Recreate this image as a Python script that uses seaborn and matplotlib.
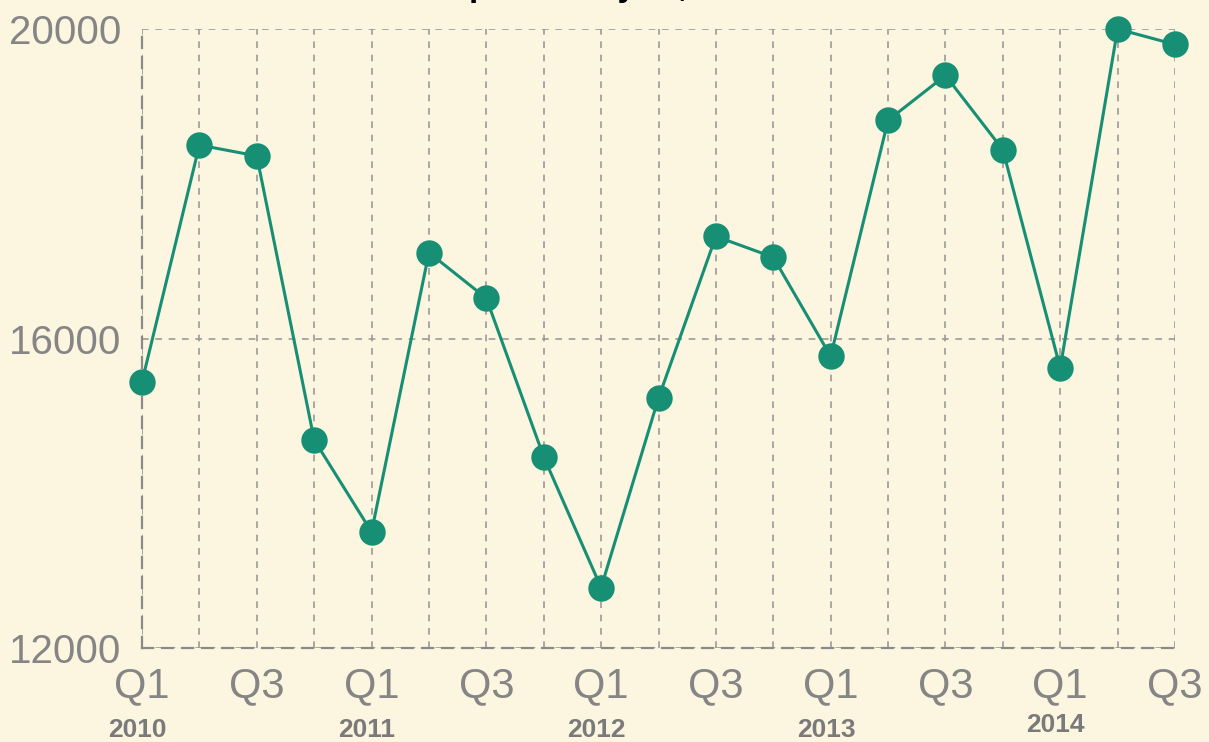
import matplotlib
matplotlib.use("Agg")
import matplotlib.pyplot as plt
import matplotlib.transforms as mtransforms
import seaborn as sns
import pandas as pd

quarters = ["Q1", "Q2", "Q3", "Q4"] * 4 + ["Q1", "Q2", "Q3"]
years = [2010] * 4 + [2011] * 4 + [2012] * 4 + [2013] * 4 + [2014] * 3
values = [15440, 18500, 18360, 14690, 13500, 17110, 16520, 14470, 12780,
          15230, 17320, 17050, 15770, 18820, 19400, 18440, 15620, 20000, 19800]
year_labels = ["2010", "2011", "2012", "2013", "2014"]
y_ticks = [12000, 16000, 20000]
title = "Shipments by Yr, 2010\u20132014"

df = pd.DataFrame({"idx": range(len(values)), "value": values,
                   "quarter": quarters, "year": years})

sns.set_theme(style="white")
fam = ["Liberation Sans Narrow", "Liberation Sans", "DejaVu Sans"]
plt.rcParams["font.family"] = fam

bg = "#fcf5df"
fig = plt.figure(figsize=(12.09, 7.42), dpi=100, facecolor=bg)
ax = fig.add_axes([142 / 1209, 1 - 648 / 742, (1175 - 142) / 1209, (648 - 29) / 742])
ax.set_facecolor(bg)

sns.lineplot(data=df, x="idx", y="value", ax=ax, color="#168f74", linewidth=2.2,
             marker="o", markersize=19, markeredgewidth=0, clip_on=False, zorder=5)

ax.set_xlim(0, len(values) - 1)
ax.set_ylim(12000, 20000)
ax.set_xticks(range(len(values)))
ax.set_xticklabels([q if q in ("Q1", "Q3") else "" for q in quarters])
ax.set_yticks(y_ticks)
ax.set_yticklabels([str(v) for v in y_ticks])
ax.tick_params(axis="x", length=0, pad=13, labelsize=30, labelcolor="#858585")
ax.tick_params(axis="y", length=0, pad=15, labelsize=29, labelcolor="#858585")
ax.set_xlabel("")
ax.set_ylabel("")

ax.grid(True, color="#9a9a9a", linestyle=(0, (4, 4)), linewidth=1.2)
for s in ["top", "right"]:
    ax.spines[s].set_visible(False)
for s in ["left", "bottom"]:
    ax.spines[s].set_visible(True)
    ax.spines[s].set_linestyle((0, (5, 4)))
    ax.spines[s].set_color("#8a8a8a")
    ax.spines[s].set_linewidth(1.6)

# year labels under first quarter of each year
trans = mtransforms.blended_transform_factory(ax.transData, fig.transFigure)
first_idx = [years.index(int(y)) for y in year_labels]
for lab, xi in zip(year_labels, first_idx):
    ypix = 725 if lab == "2014" else 730
    ax.text(xi - 0.08, 1 - ypix / 742, lab, transform=trans,
            ha="center", va="center", fontsize=19, fontweight="bold", color="#7a7a7a")

fig.text(0.53, 1.006, title, ha="center", va="baseline", fontsize=24,
         fontweight="bold", color="black")

fig.savefig("out.png", dpi=100, facecolor=bg)
